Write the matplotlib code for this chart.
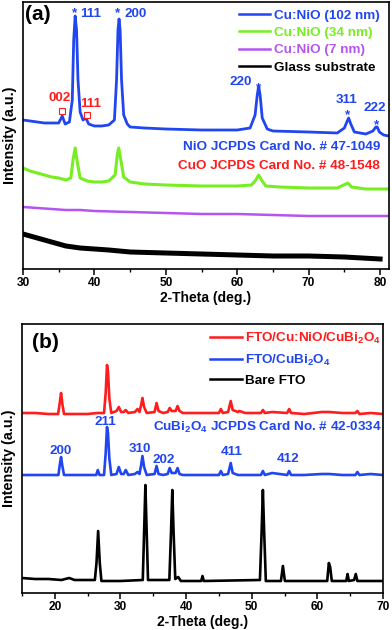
import matplotlib
matplotlib.use("Agg")
import matplotlib.pyplot as plt
from matplotlib.ticker import MultipleLocator

plt.rcParams['font.family'] = ['Liberation Sans', 'DejaVu Sans']
plt.rcParams['font.weight'] = 'bold'
plt.rcParams['mathtext.fontset'] = 'custom'
plt.rcParams['mathtext.rm'] = 'Liberation Sans:bold'
plt.rcParams['mathtext.it'] = 'Liberation Sans:bold'
plt.rcParams['mathtext.bf'] = 'Liberation Sans:bold'
plt.rcParams['mathtext.default'] = 'rm'

BLUE = '#2146f0'
GREEN = '#77ee22'
PURPLE = '#b455ee'
RED = '#ff1c1c'
BLACK = '#000000'

# ---------------- Panel (a) data ----------------
a_blue_x = [30, 31, 32, 33, 34, 35, 35.5, 35.9, 36.5, 36.9, 37.1, 37.3, 37.5, 37.7, 38.0, 38.4, 38.8, 39.2,
            40, 41, 42, 42.8, 43.1, 43.3, 43.45, 43.6, 43.8, 44.1, 44.6, 45, 47, 50, 55, 60, 61.8, 62.5,
            62.8, 63.0, 63.2, 63.5, 64.2, 65, 70, 74, 75.0, 75.4, 75.6, 75.9, 76.4, 78, 79.0, 79.4, 79.6,
            79.9, 80.5, 81.2]
a_blue_y = [149, 148, 147, 146, 146, 146, 153, 145, 147, 169, 229, 253, 239, 189, 157, 149, 151, 145,
            143, 143, 144, 149, 189, 239, 250, 239, 189, 154, 145, 142, 141, 140, 139, 139, 141, 154,
            174, 183, 174, 151, 140, 138, 137, 136, 141, 148, 151, 145, 137, 135, 138, 142, 142,
            137, 134, 133]

a_green_x = [30, 31, 32, 33, 34, 35, 36, 36.7, 37.0, 37.3, 37.6, 38.0, 39, 40, 41, 42, 42.9, 43.2, 43.4,
             43.7, 44.1, 45, 47, 50, 55, 60, 62, 62.6, 63.0, 63.4, 64, 66, 70, 74, 75.5, 76, 78, 81.2]
a_green_y = [101, 98, 96, 94, 92, 91, 89, 91, 109, 121, 107, 91, 88, 87, 87, 88, 94, 114, 121,
             109, 92, 87, 85, 84, 83, 83, 84, 89, 94, 89, 83, 82, 81, 81, 86, 82, 80, 80]

a_purple_x = [30, 32, 34, 36, 38, 40, 45, 50, 55, 60, 65, 70, 75, 81.2]
a_purple_y = [62, 61, 60, 59, 59, 58, 57, 56, 55, 55, 54, 53, 53, 53]

a_black_x = [30, 31, 32, 33, 34, 35, 36, 37, 38, 40, 42, 45, 50, 55, 60, 65, 70, 75, 80]
a_black_y = [35, 33, 31, 29, 27, 25, 23, 22, 21, 20, 19, 17, 16, 15, 14, 13, 13, 12, 10]

a_labels = ['Cu:NiO (102 nm)', 'Cu:NiO (34 nm)', 'Cu:NiO (7 nm)', 'Glass substrate']

# NiO reflections (blue) and CuO reflections (red)
nio_hkl = ['111', '200', '220', '311', '222']
nio_lab_x = [39.52, 45.83, 60.53, 75.30, 79.22]
nio_lab_y = [255, 255, 187, 169, 161]
nio_star_x = [37.28, 43.30, 63.05, 75.52, 79.58]
nio_star_y = [256, 256, 181, 154, 144]
cuo_hkl = ['002', '111']
cuo_lab_x = [35.11, 39.45]
cuo_lab_y = [171, 165]
cuo_mark_x = [35.49, 38.96]
cuo_mark_y = [158, 154]

# ---------------- Panel (b) data ----------------
b_red_x = [15, 17, 19, 20.5, 20.75, 20.95, 21.15, 21.4, 23, 25, 26.5, 27.5, 27.75, 27.95, 28.1, 28.3, 28.6,
           29.4, 29.75, 30.1, 30.5, 30.8, 31.2, 32.2, 32.6, 32.9, 33.15, 33.35, 33.6, 34.0, 35.2, 35.5,
           35.8, 36.5, 37.2, 37.5, 37.8, 38.4, 38.7, 39.0, 39.5, 42, 45.0, 45.3, 45.6, 46.4, 46.8, 47.1,
           47.9, 48.1, 49, 51.4, 51.7, 52, 53.1, 55.4, 55.7, 56, 58, 60.7, 61.8, 63.8, 65.8, 66.1, 66.4,
           68.1, 70]
b_red_y = [180, 180, 179, 179, 190, 200, 189, 179, 179, 179, 180, 180, 200, 228, 222, 195, 180,
           182, 186, 181, 181, 183, 180, 181, 184, 181, 188, 195, 186, 180, 181, 190,
           182, 180, 181, 185, 182, 182, 187, 182, 180, 180, 180, 184, 180, 181, 192, 183,
           181, 182, 180, 180, 183, 180, 181, 180, 184, 180, 179, 181, 181, 180, 180, 182, 179,
           180, 179]

b_blue_x = [15, 17, 19, 20.55, 20.75, 20.95, 21.15, 21.4, 23, 26.3, 26.55, 26.8, 27.5, 27.75, 27.95, 28.1,
            28.3, 28.6, 29.4, 29.75, 30.1, 30.5, 30.8, 31.2, 32.2, 32.6, 32.9, 33.15, 33.35, 33.6, 34.0,
            35.2, 35.5, 35.8, 36.5, 37.2, 37.5, 37.8, 38.4, 38.7, 39.0, 39.5, 42, 45.0, 45.3, 45.6, 46.4,
            46.8, 47.1, 47.9, 49, 51.4, 51.7, 52, 53.1, 55.4, 55.7, 56, 58, 60.7, 61.8, 63.8, 65.8, 66.1,
            66.4, 68.1, 70]
b_blue_y = [118, 118, 118, 118, 128, 136, 127, 118, 118, 118, 123, 118, 118, 140, 166, 160,
            135, 118, 119, 126, 119, 119, 123, 118, 119, 121, 119, 128, 137, 126, 118,
            119, 127, 119, 118, 119, 125, 120, 120, 125, 119, 118, 118, 118, 122, 118, 119,
            130, 120, 118, 118, 118, 122, 118, 120, 118, 122, 118, 118, 119, 119, 118, 118, 121,
            118, 119, 118]

b_black_x = [15, 17, 19, 21, 22.2, 23, 25, 26.1, 26.35, 26.6, 26.85, 27.1, 30, 33.4, 33.6, 33.8, 34.0,
             34.2, 37.45, 37.7, 37.9, 38.1, 38.35, 38.8, 39.2, 42.3, 42.5, 42.7, 51.25, 51.5, 51.7,
             51.9, 52.15, 54.45, 54.75, 55.05, 61.5, 61.75, 61.95, 62.2, 64.4, 64.6, 64.8, 65.6,
             65.85, 66.1, 70]
b_black_y = [15, 14, 14, 13, 15, 13, 13, 13, 30, 62, 30, 12, 12, 13, 60, 108, 60,
             13, 13, 60, 103, 60, 14, 16, 12, 12, 17, 12, 13, 60, 103,
             60, 12, 12, 27, 12, 12, 30, 26, 12, 12, 19, 12, 13,
             19, 12, 12]

b_labels = ['FTO/Cu:NiO/CuBi$_2$O$_4$', 'FTO/CuBi$_2$O$_4$', 'Bare FTO']

cbo_hkl = ['200', '211', '310', '202', '411', '412']
cbo_lab_x = [20.91, 27.75, 33.0, 36.57, 46.9, 55.49]
cbo_lab_y = [142, 171, 144, 133, 141, 134]

# ---------------- Figure ----------------
fig = plt.figure(figsize=(3.92, 6.30), dpi=100)
axa = fig.add_axes([23 / 392, 1 - 269 / 630, 366 / 392, 267 / 630])
axb = fig.add_axes([22 / 392, 1 - 593 / 630, 361 / 392, 269 / 630])

FS = 9.7

for ax in (axa, axb):
    for s in ax.spines.values():
        s.set_linewidth(1.2)
    ax.set_yticks([])
    ax.xaxis.set_major_locator(MultipleLocator(10))
    ax.xaxis.set_minor_locator(MultipleLocator(5))
    ax.tick_params(axis='x', which='major', direction='out', length=4, width=1.1,
                   labelsize=8.6, pad=2)
    ax.tick_params(axis='x', which='minor', direction='out', length=2.5, width=1.0)
    ax.set_xlabel('2-Theta (deg.)', fontsize=10, fontweight='bold', labelpad=1)
    ax.set_ylabel('Intensity (a.u.)', fontsize=10.4, fontweight='bold', labelpad=4)
    for t in ax.get_xticklabels():
        t.set_fontweight('bold')

# Panel (a)
la1, = axa.plot(a_blue_x, a_blue_y, color=BLUE, lw=2.0, label=a_labels[0])
la2, = axa.plot(a_green_x, a_green_y, color=GREEN, lw=2.2, label=a_labels[1])
la3, = axa.plot(a_purple_x, a_purple_y, color=PURPLE, lw=1.8, label=a_labels[2])
la4, = axa.plot(a_black_x, a_black_y, color=BLACK, lw=3.6, label=a_labels[3])
axa.set_xlim(30, 81.25)
axa.set_ylim(0, 267)

leg = axa.legend(handles=[la1, la2, la3, la4], loc='upper right', bbox_to_anchor=(0.976, 0.972),
                 frameon=False, fontsize=FS, handlelength=2.35, handletextpad=0.3,
                 labelspacing=0.36, borderpad=0, borderaxespad=0)
for txt, c in zip(leg.get_texts(), [BLUE, GREEN, PURPLE, BLACK]):
    txt.set_color(c)
    txt.set_fontweight('bold')
for h in leg.get_lines():
    h.set_linewidth(1.8)

axa.text(30.3, 254, '(a)', fontsize=15, fontweight='bold', ha='left', va='center')
for h, x, y in zip(nio_hkl, nio_lab_x, nio_lab_y):
    axa.text(x, y, h, color=BLUE, fontsize=FS, fontweight='bold', ha='center', va='center')
for x, y in zip(nio_star_x, nio_star_y):
    axa.text(x, y, '*', color=BLUE, fontsize=FS, fontweight='bold', ha='center', va='center')
for h, x, y in zip(cuo_hkl, cuo_lab_x, cuo_lab_y):
    axa.text(x, y, h, color=RED, fontsize=FS, fontweight='bold', ha='center', va='center')
axa.plot(cuo_mark_x, cuo_mark_y, ls='none', marker='s', ms=4.2, mfc='white', mec=RED, mew=0.8)
axa.text(80.0, 122, 'NiO JCPDS Card No. # 47-1049', color=BLUE, fontsize=FS, fontweight='bold',
         ha='right', va='center')
axa.text(80.0, 103, 'CuO JCPDS Card No. # 48-1548', color=RED, fontsize=FS, fontweight='bold',
         ha='right', va='center')

# Panel (b)
lb1, = axb.plot(b_red_x, b_red_y, color=RED, lw=1.9, label=b_labels[0])
lb2, = axb.plot(b_blue_x, b_blue_y, color=BLUE, lw=1.9, label=b_labels[1])
lb3, = axb.plot(b_black_x, b_black_y, color=BLACK, lw=1.9, label=b_labels[2])
axb.set_xlim(15, 70)
axb.set_ylim(0, 269)

legb = axb.legend(handles=[lb1, lb2, lb3], loc='upper right', bbox_to_anchor=(0.995, 0.975),
                  frameon=False, fontsize=FS, handlelength=2.35, handletextpad=0.25,
                  labelspacing=0.5, borderpad=0, borderaxespad=0)
for txt, c in zip(legb.get_texts(), [RED, BLUE, BLACK]):
    txt.set_color(c)
    txt.set_fontweight('bold')
for h in legb.get_lines():
    h.set_linewidth(1.8)

axb.text(16.5, 251, '(b)', fontsize=15, fontweight='bold', ha='left', va='center')
for h, x, y in zip(cbo_hkl, cbo_lab_x, cbo_lab_y):
    axb.text(x, y, h, color=BLUE, fontsize=FS, fontweight='bold', ha='center', va='center')
axb.text(69.75, 166, 'CuBi$_2$O$_4$ JCPDS Card No. # 42-0334', color=BLUE, fontsize=FS,
         fontweight='bold', ha='right', va='center')

fig.savefig('out.png', dpi=100)
